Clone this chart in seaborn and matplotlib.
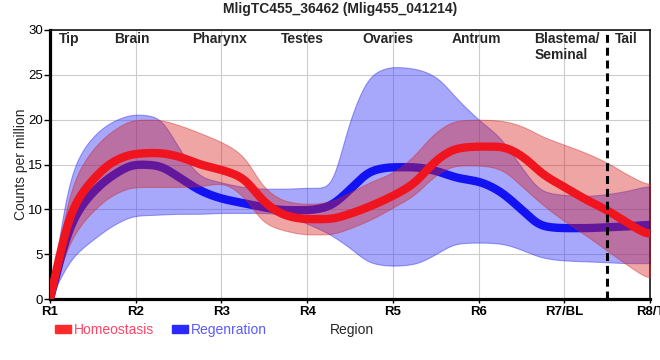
import numpy as np
import pandas as pd
import matplotlib
matplotlib.use("Agg")
import matplotlib.pyplot as plt
import seaborn as sns
from matplotlib.patches import Patch

# ---------------- data ----------------
regions = ["R1", "R2", "R3", "R4", "R5", "R6", "R7/BL", "R8/T"]
region_names = ["Tip", "Brain", "Pharynx", "Testes", "Ovaries", "Antrum", "Blastema/\nSeminal", "Tail"]

x_pos = [0, 0.25, 0.5, 0.75, 1, 1.25, 1.5, 1.75, 2, 2.25, 2.5, 2.75, 3, 3.25, 3.5,
         3.75, 4, 4.25, 4.5, 4.75, 5, 5.25, 5.5, 5.75, 6, 6.25, 6.5, 6.75, 7]

homeo_mean = [0, 9.8, 13.3, 15.4, 16.2, 16.3, 15.9, 15.0, 14.4, 13.5, 10.8, 9.3, 8.9, 8.9, 9.5,
              10.4, 11.5, 12.9, 15.4, 16.8, 17.0, 17.0, 16.0, 13.9, 12.5, 11.1, 9.9, 8.4, 7.0]
homeo_upper = [0, 12.5, 16.7, 18.9, 20.0, 20.0, 19.4, 18.5, 17.5, 16.0, 12.4, 10.9, 10.6, 10.8, 11.9,
               13.1, 14.1, 16.0, 18.6, 19.9, 20.0, 19.9, 19.3, 18.1, 17.2, 16.3, 15.2, 13.8, 12.6]
homeo_lower = [0, 6.7, 9.8, 11.7, 12.5, 12.5, 12.5, 12.6, 12.9, 11.5, 8.5, 7.6, 7.2, 7.2, 7.9,
               8.9, 10.2, 11.6, 13.8, 14.9, 14.9, 14.5, 12.6, 10.5, 8.7, 7.1, 5.4, 3.7, 2.1]

regen_mean = [0, 8.5, 11.9, 13.9, 15.0, 14.9, 13.6, 12.1, 11.2, 10.7, 10.2, 9.9, 9.9, 10.3, 12.2,
              14.3, 14.7, 14.7, 14.3, 13.5, 13.1, 12.0, 10.0, 8.1, 7.9, 7.9, 8.0, 8.1, 8.3]
regen_upper = [0, 14.1, 18.1, 19.9, 20.6, 20.3, 16.9, 13.7, 13.0, 12.5, 12.3, 12.3, 12.4, 12.4, 20.0,
               25.0, 25.9, 25.7, 24.8, 22.3, 20.0, 18.0, 14.7, 12.0, 11.6, 11.5, 11.7, 12.1, 12.7]
regen_lower = [0, 4.5, 6.6, 8.3, 9.3, 9.4, 9.5, 9.5, 9.6, 9.6, 9.6, 9.3, 8.4, 7.3, 5.7,
               4.0, 3.7, 3.9, 5.0, 6.2, 6.3, 6.2, 5.5, 4.6, 4.3, 4.2, 4.1, 4.0, 4.0]


# ---------------- smooth curve rendering ----------------
def pchip(x, y, xn):
    x = np.asarray(x, float)
    y = np.asarray(y, float)
    h = np.diff(x)
    d = np.diff(y) / h
    m = np.zeros_like(y)
    for k in range(1, len(y) - 1):
        if d[k - 1] * d[k] > 0:
            w1 = 2 * h[k] + h[k - 1]
            w2 = h[k] + 2 * h[k - 1]
            m[k] = (w1 + w2) / (w1 / d[k - 1] + w2 / d[k])
    m[0] = d[0]
    m[-1] = d[-1]
    idx = np.clip(np.searchsorted(x, xn) - 1, 0, len(x) - 2)
    t = (xn - x[idx]) / h[idx]
    h00 = 2 * t**3 - 3 * t**2 + 1
    h10 = t**3 - 2 * t**2 + t
    h01 = -2 * t**3 + 3 * t**2
    h11 = t**3 - t**2
    return h00 * y[idx] + h10 * h[idx] * m[idx] + h01 * y[idx + 1] + h11 * h[idx] * m[idx + 1]


def curve(x, y, xn, sigma=0.07):
    """Monotone cubic through the points, then a light rounding of corners."""
    yn = pchip(x, y, xn)
    step = xn[1] - xn[0]
    r = int(4 * sigma / step)
    k = np.exp(-0.5 * (np.arange(-r, r + 1) * step / sigma) ** 2)
    k /= k.sum()
    left = 2 * yn[0] - yn[1:r + 1][::-1]
    right = yn[-r - 1:-1][::-1]
    padded = np.concatenate([left, yn, right])
    return np.convolve(padded, k, mode="valid")


xs = np.linspace(0, 7, 1401)

sns.set_theme(style="white")
plt.rcParams["font.family"] = ["Liberation Sans", "DejaVu Sans"]

fig = plt.figure(figsize=(6.6, 3.6), dpi=100)
ax = fig.add_axes([50 / 660, 61 / 360, 600 / 660, 269 / 360])

red_line = "#f0141e"
blue_line = "#1212f2"
red_band = (0.86, 0.12, 0.12)
blue_band = (0.24, 0.24, 0.98)

# Regeneration band + line
ax.fill_between(xs, curve(x_pos, regen_lower, xs), curve(x_pos, regen_upper, xs),
                facecolor=blue_band, edgecolor=(0.2, 0.2, 0.9), linewidth=0.8,
                alpha=0.45, zorder=1)
df_regen = pd.DataFrame({"x": xs, "cpm": curve(x_pos, regen_mean, xs)})
sns.lineplot(data=df_regen, x="x", y="cpm", color=blue_line, linewidth=6,
             estimator=None, sort=False, ax=ax, zorder=2)

# Homeostasis band + line
ax.fill_between(xs, curve(x_pos, homeo_lower, xs), curve(x_pos, homeo_upper, xs),
                facecolor=red_band, edgecolor=(0.8, 0.15, 0.15), linewidth=0.8,
                alpha=0.40, zorder=3)
df_homeo = pd.DataFrame({"x": xs, "cpm": curve(x_pos, homeo_mean, xs)})
sns.lineplot(data=df_homeo, x="x", y="cpm", color=red_line, linewidth=6,
             estimator=None, sort=False, ax=ax, zorder=4)

# Divider between body and tail
ax.axvline(6.5, color="black", linewidth=2.2, linestyle=(0, (2.6, 1.6)), zorder=6)

# Axes styling
ax.set_xlim(0, 7)
ax.set_ylim(0, 30)
ax.set_xticks(range(len(regions)))
ax.set_xticklabels(regions, fontweight="bold", fontsize=9.5)
ax.set_yticks([0, 5, 10, 15, 20, 25, 30])
ax.tick_params(axis="y", labelsize=9.5, length=4, width=1, pad=1, left=True, colors="black")
ax.tick_params(axis="x", length=3, width=1, pad=2, bottom=True, colors="black")
ax.grid(True, color="#cccccc", linewidth=0.8, zorder=0)
ax.set_axisbelow(True)
for side, lw in [("left", 2.3), ("bottom", 2.3), ("top", 1.1), ("right", 1.1)]:
    ax.spines[side].set_visible(True)
    ax.spines[side].set_color("black")
    ax.spines[side].set_linewidth(lw)

ax.set_ylabel("Counts per million", fontsize=10)
ax.yaxis.set_label_coords(-0.036, 0.5)
ax.set_xlabel("Region", fontsize=10)
ax.xaxis.set_label_coords(0.503, -0.088)

# Region annotations
label_x = [0.22, 0.96, 1.98, 2.95, 3.94, 4.97, 5.65, 6.72]
for name, lx in zip(region_names, label_x):
    ha = "left" if "/" in name else "center"
    ax.text(lx, 29.75, name, ha=ha, va="top", fontsize=10, fontweight="bold",
            linespacing=1.15, zorder=7)

fig.text(340 / 660, 1 - 9 / 360, "MligTC455_36462 (Mlig455_041214)",
         ha="center", va="center", fontsize=10, fontweight="bold")

leg = fig.legend(handles=[Patch(color="#ff2a2a", label="Homeostasis"),
                          Patch(color="#2a2aff", label="Regenration")],
                 loc="center left", bbox_to_anchor=(55 / 660, 1 - 330 / 360),
                 ncol=2, frameon=False, fontsize=10, handlelength=1.15,
                 handleheight=0.55, handletextpad=0.2, columnspacing=1.3,
                 borderpad=0, borderaxespad=0)
leg.get_texts()[0].set_color("#ff4466")
leg.get_texts()[1].set_color("#5b5bff")

fig.savefig("out.png", dpi=100)
